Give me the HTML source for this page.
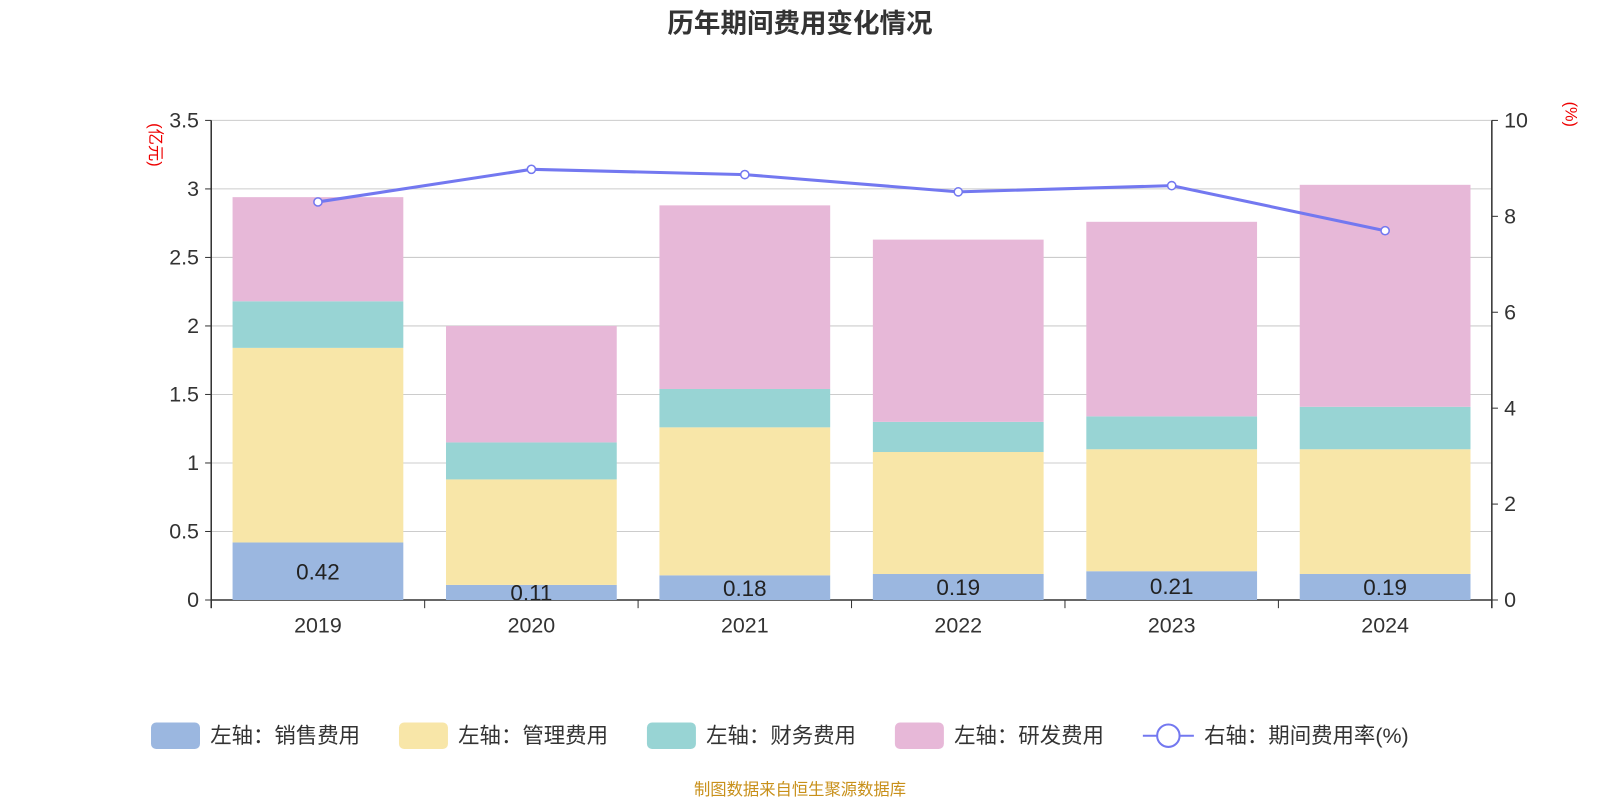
<!DOCTYPE html>
<html><head><meta charset="utf-8"><style>
body{margin:0;background:#fff}
svg{display:block;font-family:"Liberation Sans","Noto Sans CJK SC",sans-serif}
</style></head><body>
<svg id="c" width="1600" height="800" viewBox="0 0 1568 784">
<text x="784" y="32" text-anchor="middle" font-size="26" font-weight="bold" fill="#333">历年期间费用变化情况</text>
<text transform="translate(147,142) rotate(90)" text-anchor="middle" font-size="16" fill="#e00">(亿元)</text>
<text transform="translate(1534,112) rotate(90)" text-anchor="middle" font-size="16" fill="#e00">(%)</text>
<g id="grid"></g><g id="bars"></g><g id="axes"></g><g id="line"></g>
<g id="legend" font-size="21" fill="#333"></g>
<text x="784" y="779" text-anchor="middle" font-size="16" fill="#c8901a">制图数据来自恒生聚源数据库</text>
</svg>
<script>
const categories=["2019","2020","2021","2022","2023","2024"];
const sales=[0.42,0.11,0.18,0.19,0.21,0.19];
const mgmt=[1.42,0.77,1.08,0.89,0.89,0.91];
const fin=[0.34,0.27,0.28,0.22,0.24,0.31];
const rd=[0.76,0.85,1.34,1.33,1.42,1.62];
const rate=[8.3,8.98,8.87,8.51,8.64,7.70];
const leftTicks=[0,0.5,1,1.5,2,2.5,3,3.5];
const rightTicks=[0,2,4,6,8,10];
const X0=207,X1=1462,Y0=588,Y1=118;
const NS="http://www.w3.org/2000/svg";
const yL=v=>Y0-(Y0-Y1)*v/3.5, yR=v=>Y0-(Y0-Y1)*v/10;
const band=(X1-X0)/categories.length, xc=i=>X0+band*(i+0.5), bw=band*0.8;
function mk(p,t,a){const e=document.createElementNS(NS,t);for(const k in a)e.setAttribute(k,a[k]);document.getElementById(p).appendChild(e);return e;}
leftTicks.forEach(v=>{
 const l=mk('grid','line',{x1:X0,x2:X1,y1:yL(v),y2:yL(v),stroke:v?'#ccc':'#333','stroke-width':v?1:1.5});
 
 
 mk('axes','line',{x1:X0-6,x2:X0,y1:yL(v),y2:yL(v),stroke:'#333'});
 const t=mk('axes','text',{x:X0-12,y:yL(v)+7,'text-anchor':'end','font-size':21,fill:'#333'});t.textContent=v;
 
 
});
rightTicks.forEach(v=>{
 mk('axes','line',{x1:X1,x2:X1+6,y1:yR(v),y2:yR(v),stroke:'#333'});
 const t=mk('axes','text',{x:X1+12,y:yR(v)+7,'font-size':21,fill:'#333'});t.textContent=v;
 
 
});
mk('axes','line',{x1:X0,x2:X0,y1:Y1,y2:Y0+8,stroke:'#333','stroke-width':1.5});
mk('axes','line',{x1:X1,x2:X1,y1:Y1,y2:Y0+8,stroke:'#333','stroke-width':1.5});
for(let i=0;i<=categories.length;i++)mk('axes','line',{x1:X0+band*i,x2:X0+band*i,y1:Y0,y2:Y0+8,stroke:'#333'});
const series=[[sales,'#9bb7e0','sales'],[mgmt,'#f8e6a8','mgmt'],[fin,'#98d4d4','fin'],[rd,'#e7b8d8','rd']];
categories.forEach((c,i)=>{
 let base=0;
 series.forEach(([arr,col,n])=>{
  const r=mk('bars','rect',{x:xc(i)-bw/2,width:bw,y:yL(base+arr[i]),height:yL(base)-yL(base+arr[i]),fill:col});
  
  
  base+=arr[i];
 });
 const t=mk('bars','text',{x:xc(i),y:(yL(0)+yL(sales[i]))/2+8,'text-anchor':'middle','font-size':22,fill:'#222'});t.textContent=sales[i].toFixed(2);
 
 
 const xl=mk('axes','text',{x:xc(i),y:Y0+32,'text-anchor':'middle','font-size':21,fill:'#333'});xl.textContent=c;
 
 
});
const pl=mk('line','polyline',{points:rate.map((v,i)=>xc(i)+','+yR(v)).join(' '),fill:'none',stroke:'#7378f0','stroke-width':3});


rate.forEach((v,i)=>{const p=mk('line','circle',{cx:xc(i),cy:yR(v),r:4,fill:'#fff',stroke:'#7378f0','stroke-width':1.5});
 
 });
const legs=[['左轴：销售费用','#9bb7e0',148],['左轴：管理费用','#f8e6a8',391],['左轴：财务费用','#98d4d4',634],['左轴：研发费用','#e7b8d8',877]];
legs.forEach(([t,col,x])=>{
 const r=mk('legend','rect',{x:x,y:708,width:48,height:26,rx:5,fill:col});
 
 
 const tx=mk('legend','text',{x:x+58,y:728});tx.textContent=t;
 
 
});
mk('legend','line',{x1:1120,x2:1170,y1:721,y2:721,stroke:'#7378f0','stroke-width':2});
mk('legend','circle',{cx:1145,cy:721,r:11,fill:'#fff',stroke:'#7378f0','stroke-width':2});
const lt=mk('legend','text',{x:1180,y:728});lt.textContent='右轴：期间费用率(%)';


</script>
</body></html>
